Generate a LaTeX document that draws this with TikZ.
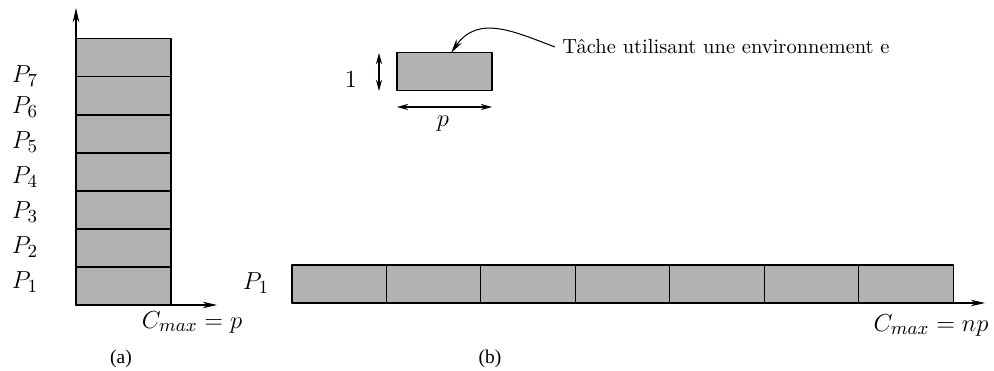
\documentclass[tikz,border=0pt]{standalone}
\usepackage{fontspec}
\newfontfamily\capfont{Liberation Serif}
\usetikzlibrary{arrows.meta,calc}
\usepackage{tkz-euclide}
\definecolor{TaskClr}{rgb}{0.7,0.7,0.7}
\tikzset{
  axisarrow/.style={-{Stealth[length=7pt,width=3.2pt]}},
  dimarrow/.style={{Stealth[length=5.5pt,width=3pt]}-{Stealth[length=5.5pt,width=3pt]}},
  mathlbl/.style={font=\fontsize{12.6}{15}\selectfont},
  caplbl/.style={font=\capfont\fontsize{9.5}{11}\selectfont}
}

\begin{document}
\begin{tikzpicture}[x=0.01714cm,y=0.01714cm]
\useasboundingbox (0,0) rectangle (994,371);
\tkzSetUpLine[line width=0.5pt,color=black]

% (a) stack of seven processors
\tkzDefPoints{76/66/SL0,76/104/SL1,76/142/SL2,76/180/SL3,76/218/SL4,76/256/SL5,76/294/SL6,76/332/SL7}
\tkzDefPoints{171/66/SR0,171/104/SR1,171/142/SR2,171/180/SR3,171/218/SR4,171/256/SR5,171/294/SR6,171/332/SR7}
\tkzDefPoints{76/66/O,76/363/U,217/66/R}

\tkzFillPolygon[fill=TaskClr](SL0,SR0,SR7,SL7)
\tkzDrawSegments[line width=0.5pt](SL1,SR1 SL2,SR2 SL3,SR3 SL4,SR4 SL5,SR5 SL6,SR6)
\tkzDrawPolygon[line width=0.5pt](SL0,SR0,SR7,SL7)
\tkzDrawSegments[line width=0.5pt,axisarrow](O,U O,R)

\node[mathlbl] (p1) at (25,89) {$P_1$};
\node[mathlbl] (p2) at (25,124) {$P_2$};
\node[mathlbl] (p3) at (25,159) {$P_3$};
\node[mathlbl] (p4) at (25,194) {$P_4$};
\node[mathlbl] (p5) at (25,229) {$P_5$};
\node[mathlbl] (p6) at (25,264) {$P_6$};
\node[mathlbl] (p7) at (25,295) {$P_7$};
\node[mathlbl] (cmaxa) at (192,49) {$C_{max}=p$};
\node[caplbl] (capa) at (121,12) {(a)};

% (b) one task and the single processor
\tkzDefPoints{397/280/TA,492/280/TB,492/318/TC,397/318/TD}
\tkzDefPoints{379/280/VA,379/318/VB,397/264/HA,492/264/HB,451/318/TT}

\tkzFillPolygon[fill=TaskClr](TA,TB,TC,TD)
\tkzDrawPolygon[line width=0.5pt](TA,TB,TC,TD)
\tkzDrawSegments[line width=0.5pt,dimarrow](VA,VB HA,HB)

\node[mathlbl] (one) at (351,291) {$1$};
\node[mathlbl] (plen) at (443,247) {$p$};
\node[anchor=west] (legend) at (555,324) {Tâche utilisant une environnement e};
\draw[line width=0.5pt,axisarrow] (legend.west) .. controls (515,339) and (478,357) .. (TT);

\tkzDefPoints{292/68/RB0,386.4/68/RB1,480.9/68/RB2,575.3/68/RB3,669.7/68/RB4,764.1/68/RB5,858.6/68/RB6,953/68/RB7}
\tkzDefPoints{292/106/RT0,386.4/106/RT1,480.9/106/RT2,575.3/106/RT3,669.7/106/RT4,764.1/106/RT5,858.6/106/RT6,953/106/RT7}
\tkzDefPoints{985/68/RE}

\tkzFillPolygon[fill=TaskClr](RB0,RB7,RT7,RT0)
\tkzDrawSegments[line width=0.5pt](RB1,RT1 RB2,RT2 RB3,RT3 RB4,RT4 RB5,RT5 RB6,RT6)
\tkzDrawPolygon[line width=0.5pt](RB0,RB7,RT7,RT0)
\tkzDrawSegments[line width=0.5pt,axisarrow](RB0,RE)

\node[mathlbl] (q1) at (256,88) {$P_1$};
\node[mathlbl] (cmaxb) at (931,46) {$C_{max}=np$};
\node[caplbl] (capb) at (490,12) {(b)};

\end{tikzpicture}
\end{document}
